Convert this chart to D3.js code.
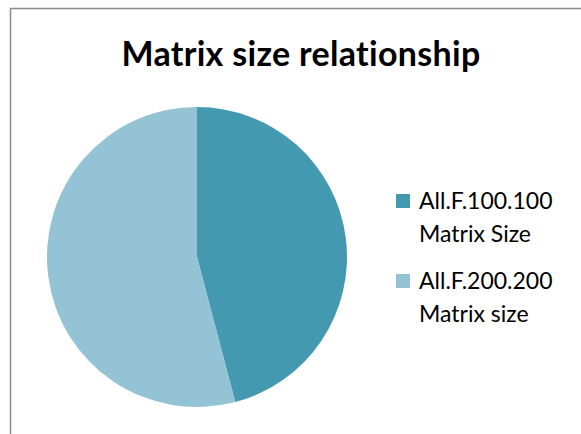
<!DOCTYPE html>
<html>
<head>
<meta charset="utf-8">
<script src="https://cdn.jsdelivr.net/npm/d3@7"></script>
<style>
  body { margin: 0; background: #fff; }
  text { font-family: Lato, "Open Sans", sans-serif; fill: #000; }
</style>
</head>
<body>
<div id="chart"></div>
<script>
    // chart data
    var categories = ['All.F.100.100 Matrix Size', 'All.F.200.200 Matrix size'];
    var labelLines = [['All.F.100.100', 'Matrix Size'], ['All.F.200.200', 'Matrix size']];
    var values = [45.9, 54.1];
    var colors = ['#4299B0', '#93C3D5'];

    var width = 581,
        height = 434;

    var svg = d3.select('#chart').append('svg')
        .attr('width', width)
        .attr('height', height);

    // chart area border (runs off the right and bottom)
    svg.append('rect')
        .attr('x', 10.5)
        .attr('y', 8.5)
        .attr('width', 600)
        .attr('height', 500)
        .attr('fill', '#fff')
        .attr('stroke', '#8c8c8c')
        .attr('stroke-width', 1.5);

    svg.append('text')
        .attr('x', 301)
        .attr('y', 66)
        .attr('text-anchor', 'middle')
        .attr('font-size', 34)
        .attr('font-weight', 'bold')
        .attr('letter-spacing', 0.3)
        .text('Matrix size relationship');

    var pie = d3.pie().sort(null).value(function (d) { return d; });
    var arc = d3.arc().innerRadius(0).outerRadius(150);

    var g = svg.append('g').attr('transform', 'translate(197,257)');
    g.selectAll('path')
        .data(pie(values))
        .enter().append('path')
        .attr('d', arc)
        .attr('fill', function (d, i) { return colors[i]; });

    // legend
    var legend = svg.append('g').attr('transform', 'translate(396,194)');
    var item = legend.selectAll('g')
        .data(categories)
        .enter().append('g')
        .attr('transform', function (d, i) { return 'translate(0,' + (i * 80) + ')'; });

    item.append('rect')
        .attr('width', 14)
        .attr('height', 14)
        .attr('fill', function (d, i) { return colors[i]; });

    item.append('text')
        .attr('x', 23)
        .attr('y', 15)
        .attr('font-size', 23)
        .selectAll('tspan')
        .data(function (d, i) { return labelLines[i]; })
        .enter().append('tspan')
        .attr('x', 23)
        .attr('dy', function (d, j) { return j === 0 ? 0 : 33; })
        .text(function (d) { return d; });
</script>
</body>
</html>
